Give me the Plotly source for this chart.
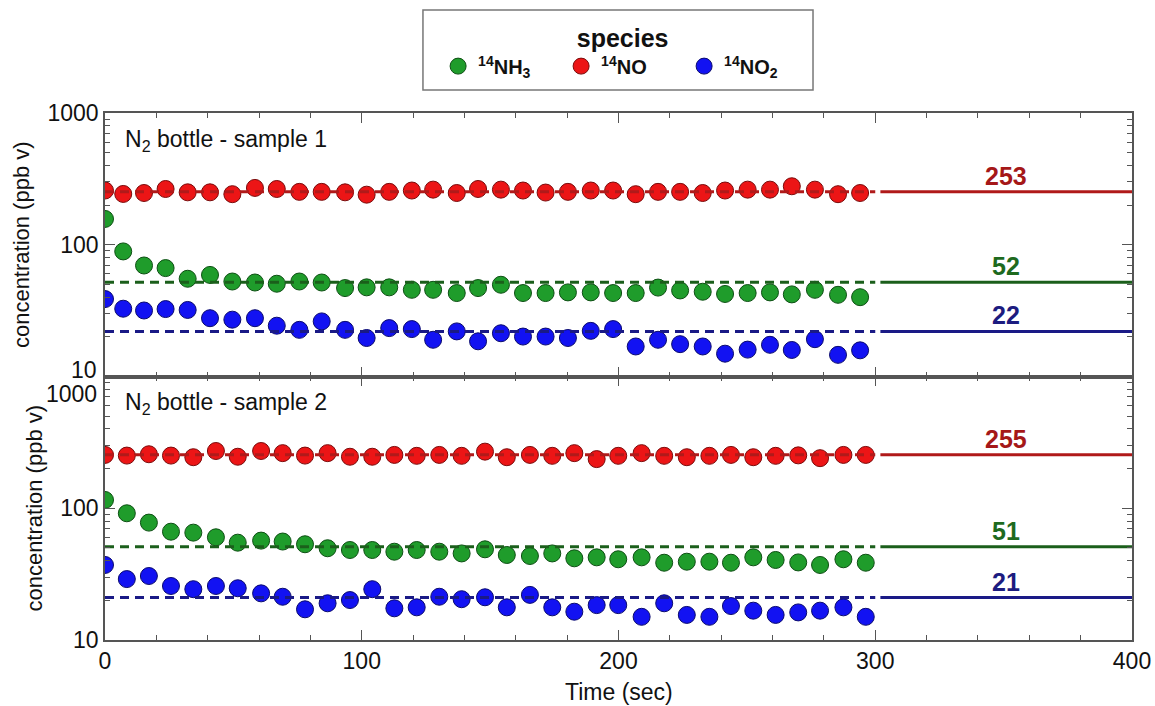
import math
import plotly.graph_objects as go
from plotly.subplots import make_subplots

# ---------------- data ----------------
time_s1 = [0, 7.1, 15.2, 23.6, 32.2, 40.9, 49.6, 58.4, 66.9, 75.7, 84.4, 93.5, 101.9, 110.7,
           119.5, 127.8, 137.0, 145.3, 154.2, 162.8, 171.6, 180.3, 189.2, 197.9, 206.7, 215.4,
           224.0, 232.8, 241.5, 250.3, 259.0, 267.5, 276.5, 285.5, 294.1]
nh3_s1 = [157, 89, 69.6, 66.5, 55.2, 59, 52.6, 51.7, 50.6, 52.6, 51.7, 46.9, 47.5, 47.5,
          45.5, 45.5, 43, 46.9, 49.7, 43, 43, 43.5, 43.5, 43, 43, 47.3, 45, 44, 42.3, 43,
          43.5, 42, 45.5, 41.7, 40]
no_s1 = [258, 243, 247, 265, 250, 250, 242, 270, 265, 252, 252, 250, 240, 252,
         258, 262, 247, 265, 262, 258, 249, 252, 258, 258, 242, 252, 252, 247, 258, 262,
         262, 278, 262, 242, 247]
no2_s1 = [38.7, 32.7, 31.7, 32.5, 32, 27.7, 27, 27.7, 24.3, 22.6, 26.2, 22.6, 19.6, 23.3,
          22.9, 19, 22, 18.5, 21.3, 20.1, 20.1, 19.6, 22.2, 22.9, 16.9, 19, 17.6, 16.9, 14.9,
          16, 17.4, 15.9, 19.2, 14.6, 15.8]

time_s2 = [0, 8.5, 17.1, 25.7, 34.4, 43.2, 51.7, 60.8, 69.2, 77.9, 86.7, 95.4, 104.1, 112.7,
           121.4, 130.2, 138.9, 148.0, 156.5, 165.5, 174.2, 182.8, 191.5, 199.9, 209.0, 217.8,
           226.6, 235.4, 243.8, 252.5, 261.2, 270.0, 278.5, 287.6, 296.3]
nh3_s2 = [115.6, 91.6, 77.8, 66.4, 65.3, 60.2, 54.8, 56.8, 55.9, 53.3, 49.7, 48.2, 48.2, 46.8,
          48.2, 46.8, 45.4, 48.8, 44.2, 43.4, 45.4, 41.7, 42.4, 41, 42.4, 38.6, 39.3, 39.3,
          38.6, 42.4, 40.5, 38.8, 37.1, 41, 38.6]
no_s2 = [254, 251, 257, 251, 244, 272, 246, 272, 262, 251, 262, 246, 246, 254,
         250, 254, 250, 269, 244, 254, 250, 262, 236, 250, 262, 250, 244, 250, 254, 244,
         250, 252, 240, 254, 254]
no2_s2 = [37.1, 29.0, 30.6, 25.7, 24.3, 25.7, 24.7, 22.6, 21.3, 17.1, 19.0, 20.1, 24.3, 17.4,
          17.7, 21.3, 20.4, 21.1, 17.7, 22.0, 17.7, 16.4, 18.4, 18.4, 15.0, 19.0, 15.5, 15.0,
          18.1, 16.7, 15.5, 16.2, 16.7, 17.7, 15.0]

species = ["<b><sup>14</sup>NH<sub>3</sub></b>", "<b><sup>14</sup>NO</b>", "<b><sup>14</sup>NO<sub>2</sub></b>"]
means_s1 = [52, 253, 22]
means_s2 = [51, 255, 21]
panel_titles = ["N<sub>2</sub> bottle - sample 1", "N<sub>2</sub> bottle - sample 2"]
fit_window = [0, 300]
extrap_window = [302, 400]
label_x = 351

# ---------------- style ----------------
fill_colors = ["#1f9c2b", "#ec1516", "#1212f2"]
edge_colors = ["#0d4f13", "#7a0b0b", "#0a0a6e"]
line_colors = ["#1b5f1b", "#b01a1a", "#1a1a86"]
text_colors = ["#1e6a1e", "#a51818", "#1c1c80"]
FONT = "Liberation Sans, Arial, Helvetica, sans-serif"
INK = "#111111"

fig = make_subplots(rows=2, cols=1, shared_xaxes=True, vertical_spacing=0)

panels = [
    (1, time_s1, [nh3_s1, no_s1, no2_s1], means_s1),
    (2, time_s2, [nh3_s2, no_s2, no2_s2], means_s2),
]

for row, t, series, means in panels:
    sfx = "" if row == 1 else str(row)
    for i, ys in enumerate(series):
        fig.add_trace(go.Scatter(
            x=t, y=ys, mode="markers", name=species[i],
            legendgroup=str(i), showlegend=(row == 1),
            marker=dict(size=17, color=fill_colors[i],
                        line=dict(color=edge_colors[i], width=1)),
        ), row=row, col=1)
    for i, m in enumerate(means):
        fig.add_trace(go.Scatter(
            x=fit_window, y=[m, m], mode="lines", showlegend=False,
            line=dict(color=line_colors[i], width=3, dash="9px,6px"),
        ), row=row, col=1)
        fig.add_trace(go.Scatter(
            x=extrap_window, y=[m, m], mode="lines", showlegend=False,
            line=dict(color=line_colors[i], width=3),
        ), row=row, col=1)
        fig.add_annotation(
            x=label_x, y=math.log10(m), xref="x" + sfx, yref="y" + sfx,
            yanchor="middle", yshift=16, text=f"<b>{m}</b>", showarrow=False,
            font=dict(family=FONT, size=25, color=text_colors[i]),
        )
    fig.add_annotation(
        x=0.018, y=0.896, xref=f"x{sfx} domain", yref=f"y{sfx} domain",
        xanchor="left", yanchor="middle", text=panel_titles[row - 1], showarrow=False,
        font=dict(family=FONT, size=23, color=INK),
    )

minor_vals = [m * 10 ** d for d in (1, 2) for m in range(2, 10)]
axis_common = dict(showline=True, linecolor="#555", linewidth=1.5, mirror="ticks",
                   ticks="inside", tickcolor="#555", tickwidth=1.2, showgrid=False,
                   zeroline=False, tickfont=dict(family=FONT, size=23, color=INK))

fig.update_yaxes(type="log", range=[1, 3], tickmode="array", tickvals=[10, 100, 1000],
                 ticklen=10, automargin=False,
                 minor=dict(ticks="inside", ticklen=5, tickvals=minor_vals,
                            tickcolor="#555", showgrid=False),
                 title=dict(text="concentration (ppb v)", font=dict(family=FONT, size=22, color=INK),
                            standoff=12),
                 **axis_common)
fig.update_yaxes(ticktext=["", "100", "1000"], row=1, col=1)
fig.update_yaxes(ticktext=["10", "100", ""], row=2, col=1)
fig.update_xaxes(range=[0, 400], dtick=100, tick0=0, ticklen=10, automargin=False,
                 ticklabeloverflow="allow",
                 minor=dict(ticks="inside", ticklen=5, dtick=20, tickcolor="#555", showgrid=False),
                 **axis_common)
fig.update_xaxes(showticklabels=False, row=1, col=1)

fig.update_layout(yaxis=dict(domain=[0.5, 1.0]), yaxis2=dict(domain=[0.0, 0.5]))

# x-axis title
fig.add_annotation(x=0.5, y=0, xref="paper", yref="paper", xanchor="center", yanchor="middle",
                   yshift=-52, text="Time (sec)", showarrow=False,
                   font=dict(family=FONT, size=23, color=INK))

# boundary tick labels, offset so they do not collide
fig.add_annotation(x=0, y=0, xref="paper", yref="y domain", xanchor="right", yanchor="middle",
                   xshift=-6, yshift=7, text="10", showarrow=False,
                   font=dict(family=FONT, size=23, color=INK))
fig.add_annotation(x=0, y=1, xref="paper", yref="y2 domain", xanchor="right", yanchor="middle",
                   xshift=-6, yshift=-17, text="1000", showarrow=False,
                   font=dict(family=FONT, size=23, color=INK))

# legend frame
fig.add_shape(type="rect", xref="paper", yref="paper", x0=0.3096, x1=0.6894, y0=1.0437, y1=1.1956,
              line=dict(color="#777", width=1.5), fillcolor="rgba(0,0,0,0)")

fig.update_layout(
    width=1155, height=706,
    margin=dict(l=105, r=23, t=113, b=66, autoexpand=False),
    paper_bgcolor="white", plot_bgcolor="white",
    font=dict(family=FONT, color=INK),
    legend=dict(
        orientation="h", x=0.504, xanchor="center",
        yref="container", y=0.980, yanchor="top",
        borderwidth=0, bgcolor="rgba(0,0,0,0)",
        title=dict(text="<b>species</b>", side="top center", font=dict(family=FONT, size=25)),
        font=dict(family=FONT, size=20, color=INK),
        entrywidth=78, entrywidthmode="pixels",
    ),
)

fig.write_html("out.html", config={"displayModeBar": False},
               post_script="document.body.style.margin='0';document.body.style.overflow='hidden';")
